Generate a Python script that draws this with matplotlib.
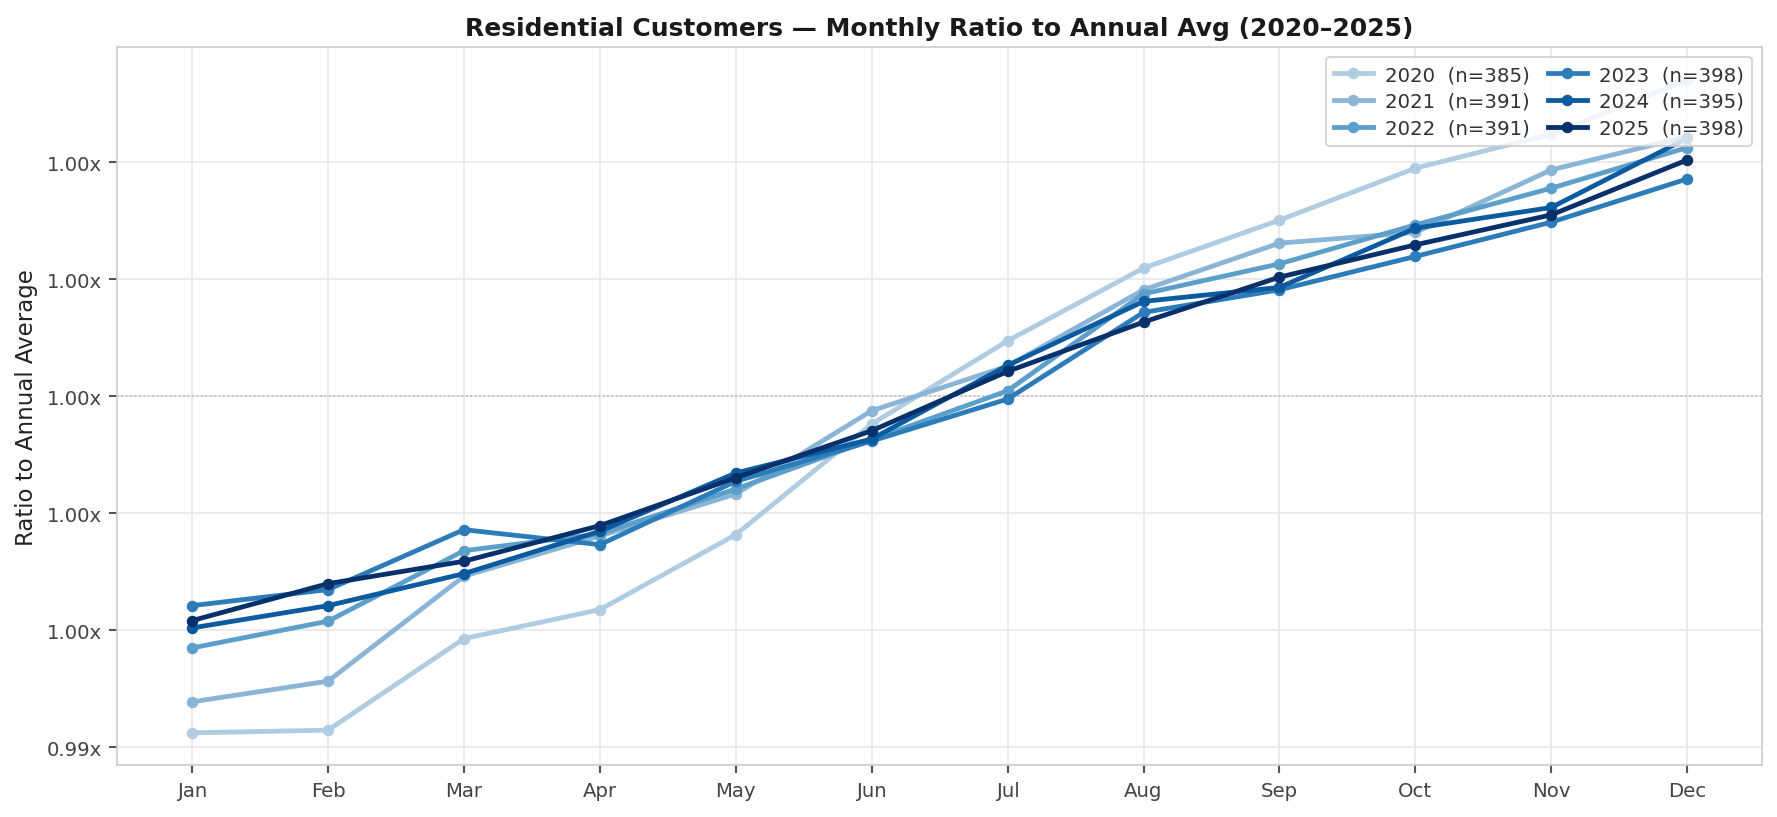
import numpy as np
import matplotlib
matplotlib.use("Agg")
import matplotlib.pyplot as plt
from matplotlib.ticker import FuncFormatter, MultipleLocator

# monthly ratio to annual average, per year
months = ["Jan", "Feb", "Mar", "Apr", "May", "Jun", "Jul", "Aug", "Sep", "Oct", "Nov", "Dec"]
years = [2020, 2021, 2022, 2023, 2024, 2025]
counts = [385, 391, 391, 398, 395, 398]

r2020 = [0.994246, 0.994292, 0.995857, 0.996353, 0.997635, 0.999527,
         1.000950, 1.002193, 1.003013, 1.003902, 1.004483, 1.005411]
r2021 = [0.994776, 0.995129, 0.996924, 0.997613, 0.998330, 0.999754,
         1.000518, 1.001822, 1.002620, 1.002803, 1.003873, 1.004443]
r2022 = [0.995698, 0.996155, 0.997361, 0.997647, 0.998416, 0.999258,
         1.000096, 1.001753, 1.002266, 1.002933, 1.003560, 1.004255]
r2023 = [0.996421, 0.996695, 0.997720, 0.997464, 0.998547, 0.999236,
         0.999954, 1.001436, 1.001822, 1.002393, 1.002979, 1.003719]
r2024 = [0.996040, 0.996421, 0.996968, 0.997693, 0.998689, 0.999270,
         1.000530, 1.001624, 1.001863, 1.002876, 1.003230, 1.004414]
r2025 = [0.996165, 0.996797, 0.997180, 0.997789, 0.998609, 0.999412,
         1.000427, 1.001270, 1.002039, 1.002591, 1.003104, 1.004043]
ratios = [r2020, r2021, r2022, r2023, r2024, r2025]

colors = ["#b0cce3", "#8ab5d7", "#5c9fca", "#2c7cba", "#0c5ba0", "#08306b"]

fig, ax = plt.subplots(figsize=(11.853, 5.453), dpi=150)
fig.subplots_adjust(left=0.066, right=0.991, top=0.941, bottom=0.063)

x = np.arange(len(months))
for yr, n, vals, c in zip(years, counts, ratios, colors):
    ax.plot(x, vals, color=c, lw=2.3, marker="o", ms=4.5, label=f"{yr}  (n={n})")

ax.axhline(1.0, color="#bbbbbb", lw=0.8, ls=":", zorder=1)

ax.set_xticks(x)
ax.set_xticklabels(months)
ax.yaxis.set_major_locator(MultipleLocator(0.002))
ax.yaxis.set_major_formatter(FuncFormatter(lambda v, p: f"{v:.2f}x"))
ax.set_ylabel("Ratio to Annual Average", fontsize=11, color="#222222")
ax.set_title("Residential Customers \u2014 Monthly Ratio to Annual Avg (2020\u20132025)",
             fontsize=12, fontweight="bold", color="#1a1a1a")

ax.grid(True, color="#e6e6e6", lw=0.8)
ax.set_axisbelow(True)
for s in ax.spines.values():
    s.set_color("#cccccc")
ax.tick_params(colors="#444444", labelsize=9.5, length=4, width=1)
ax.tick_params(axis="both", color="#555555")

leg = ax.legend(loc="upper right", ncol=2, fontsize=9.5, framealpha=0.8,
                edgecolor="#cccccc", borderpad=0.4, labelspacing=0.4,
                columnspacing=0.9, handletextpad=0.6)
for t in leg.get_texts():
    t.set_color("#333333")

fig.savefig("out.png", dpi=150)
